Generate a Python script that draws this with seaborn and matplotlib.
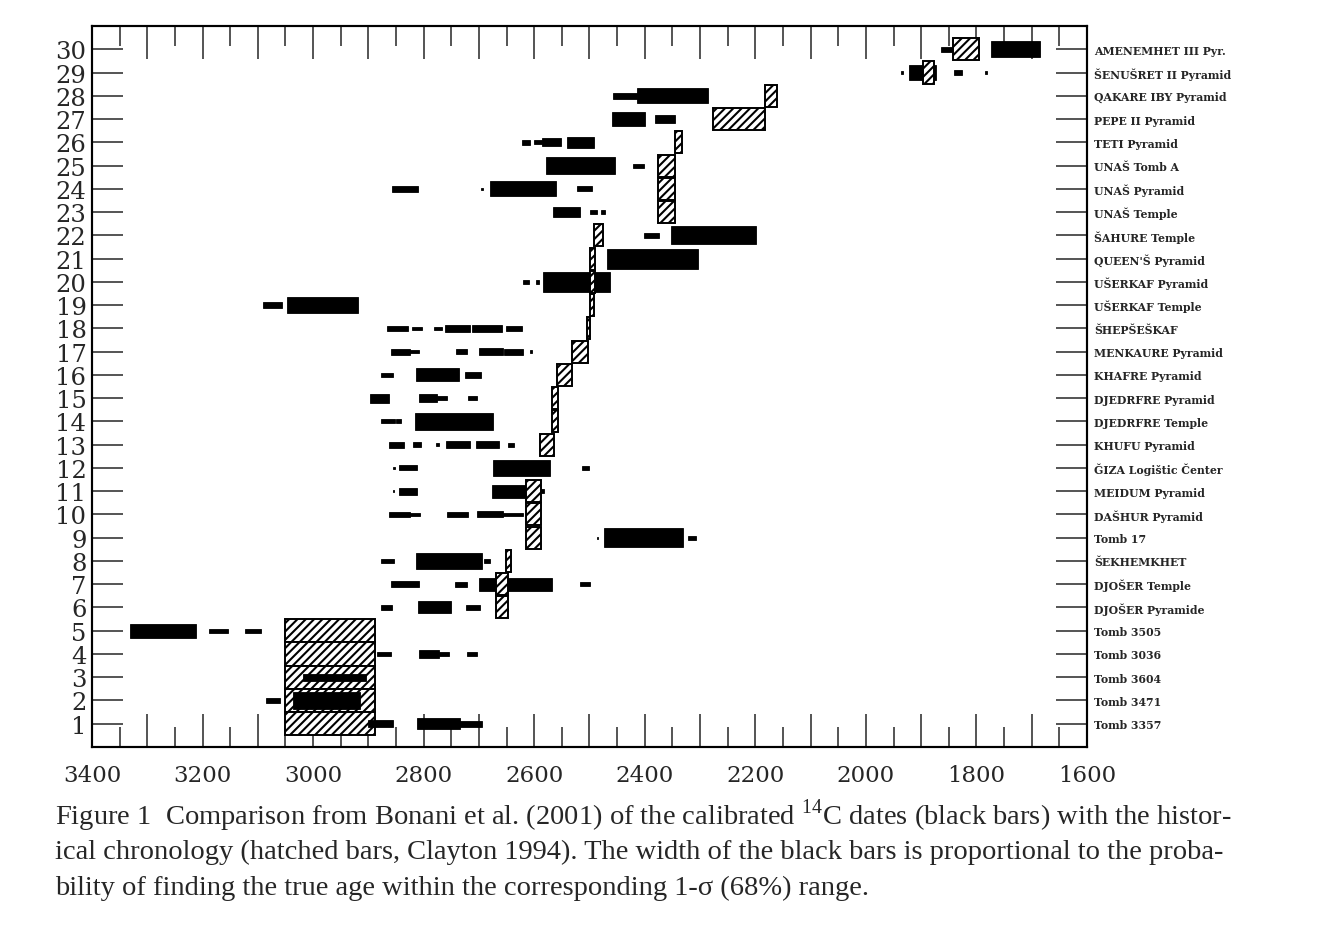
import matplotlib
matplotlib.use("Agg")
import matplotlib.pyplot as plt
import seaborn as sns

# Sites, bottom (row 1) to top (row 30)
site_names = [
    "Tomb 3357", "Tomb 3471", "Tomb 3604", "Tomb 3036", "Tomb 3505",
    "DJOŠER Pyramide", "DJOŠER Temple", "ŠEKHEMKHET", "Tomb 17", "DAŠHUR Pyramid",
    "MEIDUM Pyramid", "ǦIZA Logištic Čenter", "KHUFU Pyramid", "DJEDRFRE Temple", "DJEDRFRE Pyramid",
    "KHAFRE Pyramid", "MENKAURE Pyramid", "ŠHEPŠEŠKAF", "UŠERKAF Temple", "UŠERKAF Pyramid",
    "QUEEN'Š Pyramid", "ŠAHURE Temple", "UNAŠ Temple", "UNAŠ Pyramid", "UNAŠ Tomb A",
    "TETI Pyramid", "PEPE II Pyramid", "QAKARE IBY Pyramid", "ŠENUŠRET II Pyramid", "AMENEMHET III Pyr.",
]
rows = list(range(1, 31))

# calibrated 14C ranges (black bars): row, start (BC), end (BC), probability share
black_row = [30, 30,
             29, 29, 29, 29,
             28, 28,
             27, 27,
             26, 26, 26, 26,
             25, 25,
             24, 24, 24, 24,
             23, 23, 23,
             22, 22,
             21,
             20, 20, 20,
             19, 19,
             18, 18, 18, 18, 18, 18,
             17, 17, 17, 17, 17, 17,
             16, 16, 16,
             15, 15, 15, 15,
             14, 14, 14,
             13, 13, 13, 13, 13, 13,
             12, 12, 12, 12,
             11, 11, 11, 11,
             10, 10, 10, 10, 10,
             9, 9, 9,
             8, 8, 8,
             7, 7, 7, 7,
             6, 6, 6,
             5, 5, 5,
             4, 4, 4, 4,
             3,
             2, 2,
             1, 1, 1]
black_start = [1865, 1773,
               1937, 1922, 1840, 1784,
               2458, 2414,
               2459, 2381,
               2622, 2600, 2586, 2541,
               2578, 2421,
               2857, 2697, 2680, 2523,
               2566, 2499, 2479,
               2402, 2352,
               2468,
               2621, 2597, 2584,
               3091, 3047,
               2866, 2821, 2781, 2762, 2712, 2651,
               2859, 2824, 2742, 2700, 2654, 2607,
               2877, 2814, 2726,
               2897, 2808, 2776, 2719,
               2877, 2850, 2815,
               2862, 2819, 2777, 2759, 2706, 2648,
               2855, 2844, 2675, 2513,
               2856, 2844, 2677, 2592,
               2862, 2824, 2757, 2704, 2656,
               2487, 2473, 2321,
               2878, 2814, 2691,
               2859, 2743, 2700, 2517,
               2878, 2811, 2723,
               3332, 3188, 3124,
               2884, 2808, 2773, 2721,
               3018,
               3085, 3036,
               2900, 2812, 2734]
black_end = [1842, 1685,
             1932, 1874, 1827, 1781,
             2414, 2286,
             2399, 2346,
             2607, 2586, 2552, 2491,
             2453, 2402,
             2811, 2693, 2561, 2495,
             2518, 2487, 2472,
             2375, 2198,
             2303,
             2609, 2591, 2463,
             3057, 2919,
             2829, 2803, 2767, 2716, 2659, 2622,
             2824, 2809, 2722, 2656, 2621, 2604,
             2855, 2736, 2696,
             2862, 2776, 2758, 2704,
             2852, 2841, 2674,
             2835, 2805, 2773, 2717, 2663, 2636,
             2852, 2812, 2571, 2500,
             2853, 2812, 2616, 2582,
             2824, 2806, 2719, 2656, 2621,
             2484, 2330, 2307,
             2853, 2694, 2680,
             2809, 2722, 2568, 2499,
             2857, 2750, 2698,
             3211, 3154, 3094,
             2859, 2773, 2755, 2703,
             2904,
             3059, 2915,
             2855, 2734, 2695]
black_prob = [0.20, 0.69,
              0.10, 0.67, 0.20, 0.10,
              0.26, 0.65,
              0.57, 0.34,
              0.20, 0.17, 0.34, 0.49,
              0.76, 0.17,
              0.26, 0.10, 0.63, 0.20,
              0.40, 0.20, 0.20,
              0.20, 0.77,
              0.86,
              0.17, 0.15, 0.85,
              0.24, 0.69,
              0.22, 0.15, 0.15, 0.31, 0.31, 0.20,
              0.26, 0.13, 0.20, 0.30, 0.26, 0.10,
              0.20, 0.56, 0.26,
              0.39, 0.34, 0.20, 0.20,
              0.17, 0.17, 0.72,
              0.26, 0.20, 0.10, 0.33, 0.33, 0.17,
              0.10, 0.22, 0.66, 0.15,
              0.10, 0.30, 0.57, 0.15,
              0.23, 0.13, 0.23, 0.26, 0.15,
              0.10, 0.79, 0.17,
              0.20, 0.72, 0.15,
              0.26, 0.20, 0.57, 0.17,
              0.22, 0.52, 0.22,
              0.60, 0.19, 0.19,
              0.20, 0.37, 0.20, 0.20,
              0.32,
              0.18, 0.77,
              0.32, 0.47, 0.26]

# historical chronology (hatched bars, Clayton 1994)
hatch_row = [30, 29, 28, 27, 26, 25, 24, 23, 22, 21, 20, 19, 18, 17, 16, 15, 14, 13,
             11, 10, 9, 8, 7, 6, 5, 4, 3, 2, 1]
hatch_start = [1842, 1897, 2182, 2277, 2345, 2376, 2376, 2376, 2491, 2499, 2499, 2499, 2505,
               2532, 2558, 2567, 2567, 2590, 2615, 2614, 2614, 2651, 2669, 2669,
               3050, 3050, 3050, 3050, 3050]
hatch_end = [1795, 1877, 2160, 2183, 2332, 2345, 2345, 2345, 2475, 2490, 2490, 2491, 2499,
             2502, 2531, 2557, 2557, 2565, 2588, 2588, 2588, 2642, 2648, 2648,
             2888, 2888, 2888, 2888, 2888]

year_ticks = list(range(1600, 3401, 100))
year_labels = ["3400", "3200", "3000", "2800", "2600", "2400", "2200", "2000", "1800", "1600"]

caption_lines = [
    "Figure 1  Comparison from Bonani et al. (2001) of the calibrated $^{14}$C dates (black bars) with the histor-",
    "ical chronology (hatched bars, Clayton 1994). The width of the black bars is proportional to the proba-",
    "bility of finding the true age within the corresponding 1-σ (68%) range.",
]

sns.set_style("ticks")
plt.rcParams["font.family"] = ["DejaVu Serif"]
plt.rcParams["hatch.linewidth"] = 1.5
plt.rcParams["hatch.color"] = "black"
plt.rcParams["mathtext.fontset"] = "custom"
plt.rcParams["mathtext.rm"] = "Liberation Serif"

W, H = 1317, 928
fig = plt.figure(figsize=(W / 100, H / 100), dpi=100)
ax = fig.add_axes([92 / W, 1 - 748 / H, (1087 - 92) / W, (748 - 27) / H])

# hatched historical ranges
for r, s, e in zip(hatch_row, hatch_start, hatch_end):
    ax.barh(r, s - e, left=e, height=1.0 if r <= 5 else 0.95,
            color="white", edgecolor="black", hatch="////", linewidth=1.4,
            zorder=1 if r <= 5 else 4)

# black 14C ranges
for r, s, e, p in zip(black_row, black_start, black_end, black_prob):
    ax.barh(r, s - e, left=e, height=p, color="black", edgecolor="black",
            linewidth=0.6, zorder=3)

ax.set_xlim(3400, 1600)
ax.set_ylim(0, 31)

ax.set_xticks(year_ticks)
ax.set_xticklabels([str(v) if str(v) in year_labels else "" for v in year_ticks],
                   fontsize=16.5)
ax.set_xticks(list(range(1650, 3400, 100)), minor=True)
ax.tick_params(axis="x", which="major", direction="in", length=23.8, width=1.1,
               top=True, bottom=True, pad=12)
ax.tick_params(axis="x", which="minor", direction="in", length=14.4, width=1.1,
               top=True, bottom=True)

ax.set_yticks(rows)
ax.set_yticklabels([str(r) for r in rows], fontsize=17.5)
ax.tick_params(axis="y", direction="in", length=22.3, width=1.1, left=True,
               right=False, pad=4)

ax2 = ax.twinx()
ax2.set_ylim(0, 31)
ax2.set_yticks(rows)
ax2.set_yticklabels(site_names, fontsize=7.8, fontweight="bold")
ax2.tick_params(axis="y", direction="in", length=22.3, width=1.1, pad=5)

for a in (ax, ax2):
    for sp in a.spines.values():
        sp.set_linewidth(1.5)
        sp.set_color("black")

for i, line in enumerate(caption_lines):
    fig.text(55 / W, 1 - (816 + 36 * i) / H, line, ha="left", va="center",
             family="Liberation Serif", fontsize=20.5)

fig.savefig("out.png", dpi=100)
